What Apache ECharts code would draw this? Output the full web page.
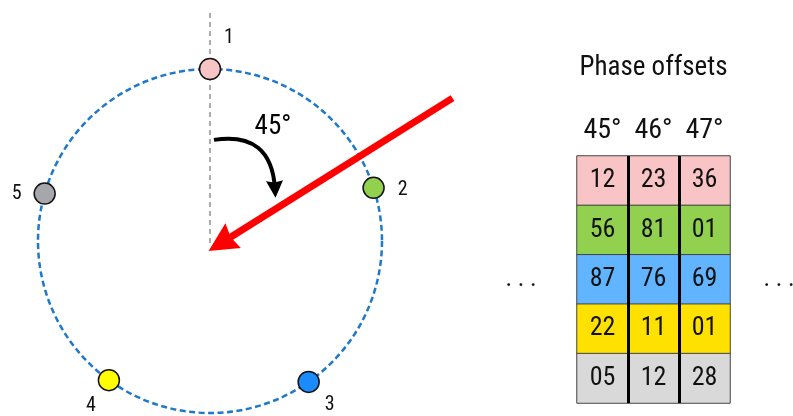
<!DOCTYPE html>
<html><head><meta charset="utf-8">
<script src="https://cdn.jsdelivr.net/npm/echarts@6/dist/echarts.min.js"></script>
<style>html,body{margin:0;padding:0;background:#fff}#c{width:793px;height:416px}</style>
</head><body><div id="c"></div>
<script>
// ---------- data ----------
const pointLabels = ['1', '2', '3', '4', '5'];
const pointAngles = [0, 72, 145, 216, 286];          // degrees, clockwise from top
const pointColors = ['#f6c4c4', '#92d050', '#1a8cff', '#ffff00', '#a5a7ab'];
const angleText = '45°';
const redArrowFrom = [1.41, 0.83];                    // unit-circle coordinates
const redArrowTo = [0.063, -0.015];
const angleArcFrom = [0.023, 0.587];
const angleArcTo = [0.378, 0.30];
const refLineFrom = [0, 1.326];
const refLineTo = [0, -0.023];
const angleTextPos = [0.366, 0.663];

const tableTitle = 'Phase offsets';
const columns = ['45°', '46°', '47°'];
const rows = ['1', '2', '3', '4', '5'];
const rowColors = ['#f8c4c5', '#92d050', '#61b4ff', '#ffe100', '#d9d9d9'];
const col45 = [12, 56, 87, 22, 5];
const col46 = [23, 81, 76, 11, 12];
const col47 = [36, 1, 69, 1, 28];
const ellipsis = '. . .';

// ---------- layout ----------
const FONT = "'Roboto Condensed','Liberation Sans Narrow','DejaVu Sans Condensed',Roboto,sans-serif";
const CX = 210, CY = 241, R = 172;
const xMin = -1.22, xMax = 1.6, yMin = -1.02, yMax = 1.4;
const labelOffsets = [[19, -31], [29, 2], [21, 23], [-18, 26], [-28, 0]];
const T = { left: 577, top: 156, width: 153, height: 247 };

const tableCols = [col45, col46, col47];
const heatData = [];
tableCols.forEach((col, c) => col.forEach((v, r) => {
  heatData.push({ value: [c, r, v], itemStyle: { color: rowColors[r] } });
}));

const chart = echarts.init(document.getElementById('c'), null, { renderer: 'canvas' });
chart.setOption({
  animation: false,
  backgroundColor: '#fff',
  polar: { center: [CX, CY], radius: R },
  angleAxis: {
    type: 'value', min: 0, max: 360, startAngle: 90, clockwise: true,
    axisLine: { show: true, lineStyle: { color: '#1f78c8', width: 2.5, type: [6, 3.5] } },
    axisTick: { show: false }, axisLabel: { show: false }, splitLine: { show: false }
  },
  radiusAxis: { type: 'value', min: 0, max: 1, show: false },
  grid: [
    { left: CX + xMin * R, top: CY - yMax * R, width: (xMax - xMin) * R, height: (yMax - yMin) * R },
    { left: T.left, top: T.top, width: T.width, height: T.height }
  ],
  xAxis: [
    { type: 'value', gridIndex: 0, min: xMin, max: xMax, show: false },
    {
      type: 'category', gridIndex: 1, data: columns, position: 'top', z: 10,
      axisLine: { show: false }, axisTick: { show: false, interval: 0 },
      axisLabel: { interval: 0, fontSize: 28, color: '#111', fontFamily: FONT, margin: 11 },
      splitLine: { show: true, interval: 0, showMinLine: false, showMaxLine: false, lineStyle: { color: '#000', width: 3 } }
    }
  ],
  yAxis: [
    { type: 'value', gridIndex: 0, min: yMin, max: yMax, show: false },
    { type: 'category', gridIndex: 1, data: rows, inverse: true, show: false }
  ],
  graphic: [
    { type: 'text', x: T.left + T.width / 2, y: 68, style: { text: tableTitle, fontSize: 27, fontFamily: FONT, fill: '#111', align: 'center', verticalAlign: 'middle' } },
    { type: 'text', x: T.left - 56, y: 280, style: { text: ellipsis, fontSize: 25, fontFamily: FONT, fill: '#111', align: 'center', verticalAlign: 'middle' } },
    { type: 'text', x: T.left + T.width + 49, y: 280, style: { text: ellipsis, fontSize: 25, fontFamily: FONT, fill: '#111', align: 'center', verticalAlign: 'middle' } }
  ],
  series: [
    {
      type: 'line', xAxisIndex: 0, yAxisIndex: 0, data: [refLineFrom, refLineTo],
      symbol: 'none', lineStyle: { color: '#777', width: 1.2, type: [5, 4] }, z: 1, silent: true
    },
    {
      type: 'lines', coordinateSystem: 'cartesian2d', xAxisIndex: 0, yAxisIndex: 0, z: 3,
      data: [{ coords: [angleArcFrom, angleArcTo] }],
      symbol: ['none', 'path://M5,0L10,10L5,9L0,10Z'], symbolSize: 17,
      lineStyle: { color: '#000', width: 4, opacity: 1, curveness: 0.55 }
    },
    {
      type: 'scatter', xAxisIndex: 0, yAxisIndex: 0, data: [angleTextPos], symbolSize: 0,
      itemStyle: { opacity: 1 },
      label: { show: true, position: 'inside', formatter: angleText, fontSize: 27, fontFamily: FONT, color: '#000' }
    },
    {
      type: 'scatter', coordinateSystem: 'polar', z: 4,
      data: pointAngles.map((a, i) => ({
        value: [1, a], itemStyle: { color: pointColors[i] },
        label: { offset: labelOffsets[i], formatter: pointLabels[i] }
      })),
      symbolSize: 21,
      itemStyle: { borderColor: '#111', borderWidth: 1.5, opacity: 1 },
      label: { show: true, position: 'inside', fontSize: 20, fontFamily: FONT, color: '#111' }
    },
    {
      type: 'lines', coordinateSystem: 'cartesian2d', xAxisIndex: 0, yAxisIndex: 0, z: 5,
      data: [{ coords: [redArrowFrom, redArrowTo] }],
      symbol: ['none', 'path://M5,0L10,10L5,9L0,10Z'], symbolSize: 29,
      itemStyle: { color: '#ff0000' },
      lineStyle: { color: '#ff0000', width: 7, opacity: 1, curveness: 0 }
    },
    {
      type: 'heatmap', xAxisIndex: 1, yAxisIndex: 1, data: heatData,
      itemStyle: { borderColor: '#444', borderWidth: 1 },
      label: { show: true, fontSize: 26, fontFamily: FONT, color: '#111',
        formatter: p => String(p.value[2]).padStart(2, '0') },
      emphasis: { disabled: true }
    }
  ]
});
</script>
</body></html>
